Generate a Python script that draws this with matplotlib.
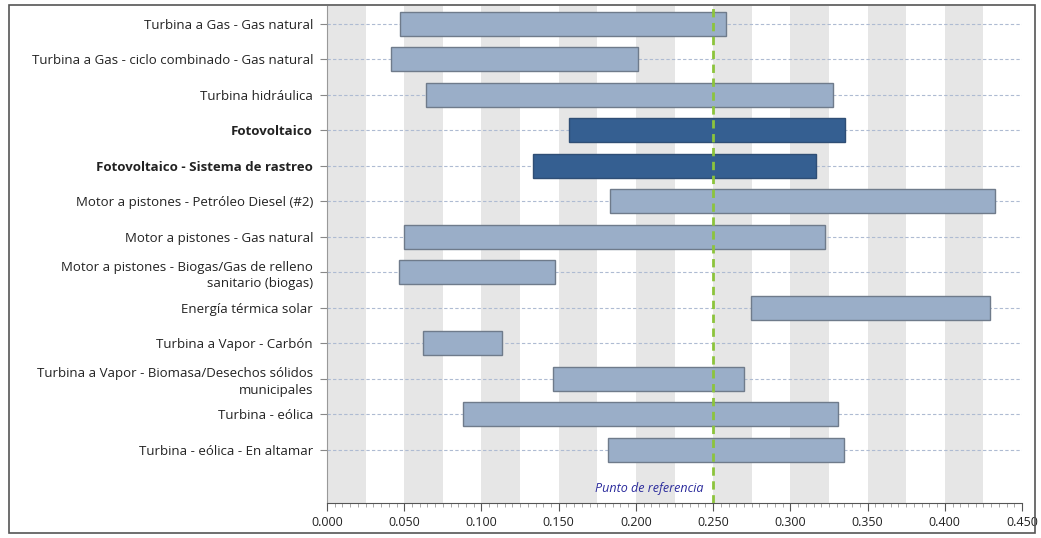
import matplotlib
matplotlib.use("Agg")
import matplotlib.pyplot as plt
from matplotlib.patches import Rectangle
from matplotlib.ticker import MultipleLocator, FormatStrFormatter

plt.rcParams['font.family'] = ['Open Sans', 'DejaVu Sans']

labels = [
    "Turbina a Gas - Gas natural",
    "Turbina a Gas - ciclo combinado - Gas natural",
    "Turbina hidráulica",
    "Fotovoltaico",
    "Fotovoltaico - Sistema de rastreo",
    "Motor a pistones - Petróleo Diesel (#2)",
    "Motor a pistones - Gas natural",
    "Motor a pistones - Biogas/Gas de relleno\nsanitario (biogas)",
    "Energía térmica solar",
    "Turbina a Vapor - Carbón",
    "Turbina a Vapor - Biomasa/Desechos sólidos\nmunicipales",
    "Turbina - eólica",
    "Turbina - eólica - En altamar",
]
low = [0.0470, 0.0415, 0.0641, 0.1567, 0.1333, 0.1832, 0.0499, 0.0466,
       0.2747, 0.0622, 0.1463, 0.0881, 0.1819]
high = [0.2584, 0.2012, 0.3276, 0.3354, 0.3169, 0.4327, 0.3224, 0.1476,
        0.4291, 0.1133, 0.2700, 0.3309, 0.3345]
highlight = [False, False, False, True, True, False, False, False,
             False, False, False, False, False]
ref_value = 0.25
ref_label = "Punto de referencia"

fig = plt.figure(figsize=(10.41, 5.38), dpi=100)
ax = fig.add_axes([327 / 1041, 35 / 538, 695 / 1041, 497 / 538])

# alternating background bands
x0 = 0.0
while x0 < 0.45:
    ax.axvspan(x0, x0 + 0.025, color="#e6e6e6", lw=0, zorder=0)
    x0 += 0.05

n = len(labels)
ypos = list(range(n))
for y in ypos:
    ax.axhline(y, color="#aebbd2", lw=0.8, ls=(0, (3, 2)), zorder=1)

for y, lo, hi, hl in zip(ypos, low, high, highlight):
    fc = "#355f91" if hl else "#9aaec8"
    ec = "#2f4e75" if hl else "#6f7b8b"
    ax.barh(y, hi - lo, left=lo, height=0.68, color=fc, edgecolor=ec,
            linewidth=1.0, zorder=3)

ax.axvline(ref_value, color="#8cc43c", lw=2, ls=(0, (3, 2)), zorder=4)
ax.annotate(ref_label, xy=(ref_value, 13.1), xytext=(-7, 0),
            textcoords="offset points", ha="right", va="center",
            style="italic", color="#2b2b9c", fontsize=9)

ax.set_xlim(0, 0.45)
ax.set_ylim(13.5, -0.5)
ax.set_yticks(ypos)
ax.set_yticklabels(labels, fontsize=9.5, color="#222222", linespacing=1.35)
for lab, hl in zip(ax.get_yticklabels(), highlight):
    if hl:
        lab.set_fontweight("bold")

ax.xaxis.set_major_locator(MultipleLocator(0.05))
ax.xaxis.set_minor_locator(MultipleLocator(0.005))
ax.xaxis.set_major_formatter(FormatStrFormatter("%.3f"))
ax.tick_params(axis="x", which="major", length=6, color="#555555",
               labelsize=9, labelcolor="#222222", pad=3)
ax.tick_params(axis="x", which="minor", length=3, color="#999999")
ax.tick_params(axis="y", length=5, color="#888888", pad=5)

for s in ["top", "right"]:
    ax.spines[s].set_visible(False)
ax.spines["left"].set_color("#999999")
ax.spines["bottom"].set_color("#555555")

# outer frame
fig.patches.append(Rectangle((9 / 1041, 5 / 538), 1026 / 1041, 528 / 538,
                             transform=fig.transFigure, fill=False,
                             edgecolor="#555555", lw=1.2))

fig.savefig("out.png", dpi=100)
